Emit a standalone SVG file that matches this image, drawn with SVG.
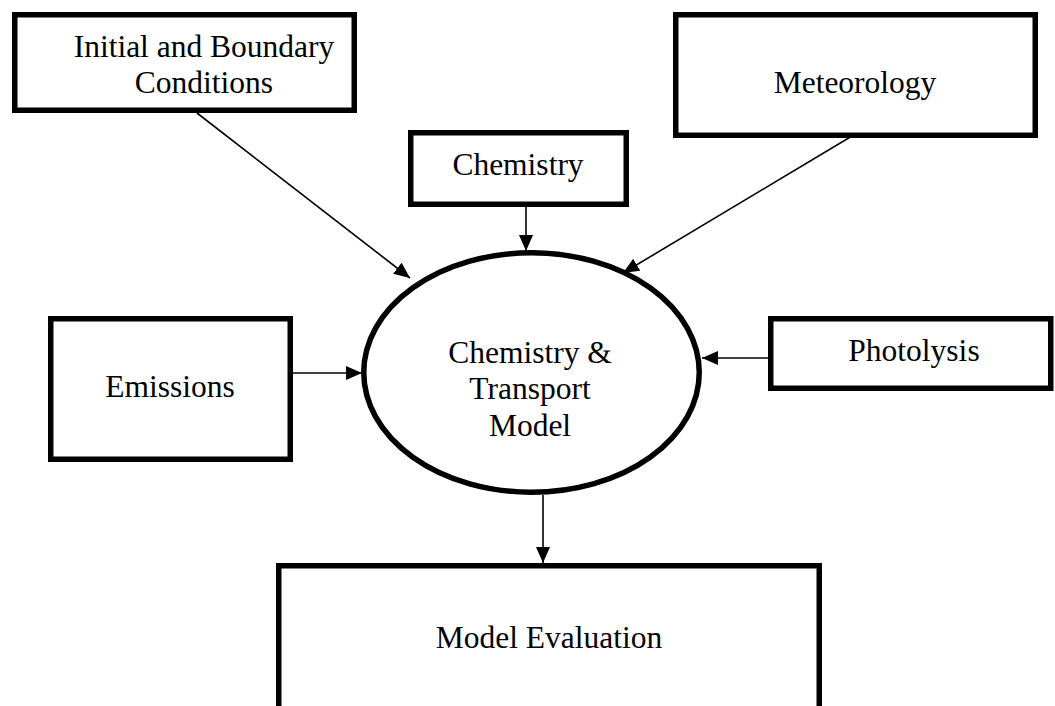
<svg xmlns="http://www.w3.org/2000/svg" width="1055" height="706" viewBox="0 0 1055 706">
  <style>
    .box { fill: #ffffff; stroke: #000000; stroke-width: 5.5; }
    .oval { fill: #ffffff; stroke: #000000; stroke-width: 5.5; }
    .label { font-family: "Liberation Serif", "Times New Roman", serif; font-size: 31.5px; fill: #000000; text-anchor: middle; }
    .link { stroke: #000000; stroke-width: 1.6; fill: none; marker-end: url(#head); }
  </style>
  <defs>
    <marker id="head" viewBox="0 0 16 14" refX="16" refY="7" markerWidth="16" markerHeight="14" markerUnits="userSpaceOnUse" orient="auto">
      <path d="M0,0 L16,7 L0,14 Z" fill="#000000"/>
    </marker>
  </defs>
  <rect width="1055" height="706" fill="#ffffff"/>

  <g id="connectors">
    <line class="link" x1="197" y1="113" x2="410" y2="278"/>
    <line class="link" x1="526" y1="207" x2="526" y2="251"/>
    <line class="link" x1="857" y1="133" x2="623" y2="273"/>
    <line class="link" x1="293" y1="373" x2="362" y2="373"/>
    <line class="link" x1="768" y1="358" x2="702" y2="358"/>
    <line class="link" x1="543" y1="495" x2="543" y2="563"/>
  </g>

  <g id="initial-boundary">
    <rect class="box" x="14.75" y="14.75" width="339.5" height="95.5"/>
    <text class="label" x="204" y="57">Initial and Boundary</text>
    <text class="label" x="204" y="93">Conditions</text>
  </g>

  <g id="chemistry">
    <rect class="box" x="410.75" y="132.75" width="215.5" height="71.5"/>
    <text class="label" x="518" y="175">Chemistry</text>
  </g>

  <g id="meteorology">
    <rect class="box" x="675.75" y="14.75" width="359.5" height="120.5"/>
    <text class="label" x="855" y="93">Meteorology</text>
  </g>

  <g id="emissions">
    <rect class="box" x="50.75" y="318.75" width="239.5" height="140.5"/>
    <text class="label" x="170" y="397">Emissions</text>
  </g>

  <g id="photolysis">
    <rect class="box" x="770.75" y="318.75" width="280" height="69.5"/>
    <text class="label" x="914" y="361">Photolysis</text>
  </g>

  <g id="ctm">
    <ellipse class="oval" cx="531.5" cy="372.5" rx="167.75" ry="119.75"/>
    <text class="label" x="530" y="363">Chemistry &amp;</text>
    <text class="label" x="530" y="399">Transport</text>
    <text class="label" x="530" y="436">Model</text>
  </g>

  <g id="model-evaluation">
    <rect class="box" x="278.75" y="565.75" width="540.5" height="160"/>
    <text class="label" x="549" y="648">Model Evaluation</text>
  </g>
</svg>
